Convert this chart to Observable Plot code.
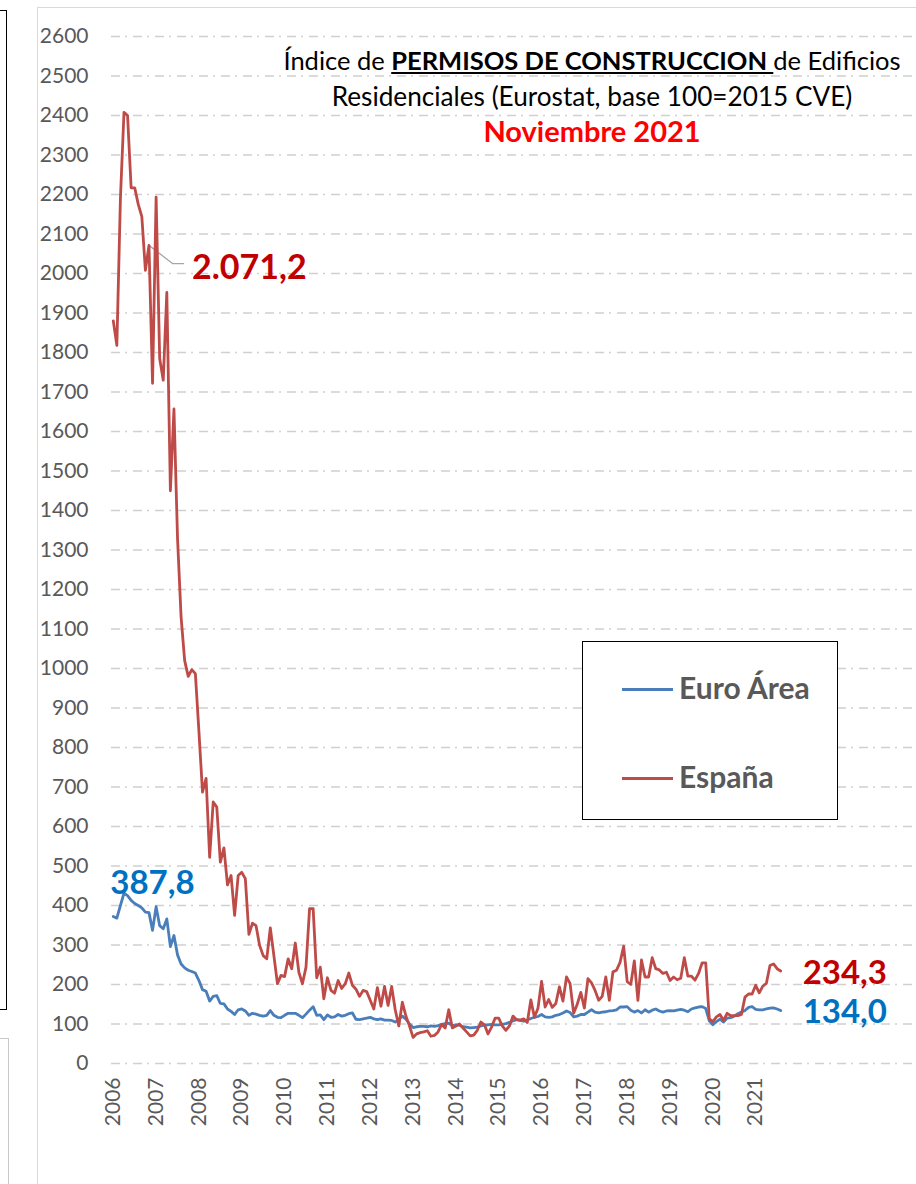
<!DOCTYPE html>
<html><head><meta charset="utf-8">
<script src="https://cdn.jsdelivr.net/npm/d3@7"></script>
<script src="https://cdn.jsdelivr.net/npm/@observablehq/plot@0.6"></script>
<style>
html,body{margin:0;padding:0;background:#fff;}
body{width:916px;height:1184px;overflow:hidden;position:relative;font-family:Lato,"Noto Sans",sans-serif;}
#chart{position:absolute;left:0;top:0;}
.deco{position:absolute;box-sizing:border-box;}
.t{position:absolute;white-space:nowrap;transform:translateX(-50%);line-height:30px;height:30px;}
#legend{position:absolute;left:582px;top:641px;width:256px;height:179px;box-sizing:border-box;border:1.5px solid #000;background:#fff;}
.lg{position:absolute;left:39px;height:30px;line-height:30px;font-weight:700;font-size:30px;color:#595959;white-space:nowrap;}
.lg span.sw{display:inline-block;width:51px;height:2.6px;vertical-align:middle;margin-right:6px;position:relative;top:-2px;}
</style></head>
<body>
<div class="deco" style="left:-10px;top:10px;width:17px;height:1000px;border:1.5px solid #000;"></div>
<div class="deco" style="left:-10px;top:1038px;width:19px;height:300px;border:1.5px solid #c8c8c8;"></div>
<div class="deco" style="left:37px;top:7px;width:1000px;height:1300px;border-left:1.5px solid #d9d9d9;border-top:1.5px solid #d9d9d9;"></div>
<div id="chart"></div>
<div class="t" id="t1" style="left:592px;top:45px;font-size:25.5px;color:#000;">Índice de <b><u>PERMISOS DE CONSTRUCCION </u></b>de Edificios</div>
<div class="t" id="t2" style="left:592px;top:81px;font-size:26.2px;color:#000;">Residenciales (Eurostat, base 100=2015 CVE)</div>
<div class="t" id="t3" style="left:592px;top:116px;font-size:29px;color:#FF0000;font-weight:700;">Noviembre 2021</div>
<div id="legend"></div>
<script>
// ---- data ----
const startYear = 2006;              // first month: January 2006
const yearTicks = d3.range(2006, 2022);
const yTicks = d3.range(0, 2601, 100);
const seriesNames = ["Euro Área", "España"];
const seriesColors = ["#4A7EBB", "#BE4B48"];

const euroArea = [
  372, 368, 400, 431, 425, 413, 405, 400, 394, 383, 382, 337,
  397, 349, 341, 366, 296, 324, 275, 252, 242, 236, 233, 229,
  210, 187, 183, 158, 170, 172, 152, 151, 138, 132, 124, 136,
  138, 133, 122, 127, 125, 122, 120, 122, 134, 122, 117, 116,
  122, 127, 127, 127, 122, 116, 125, 135, 144, 122, 123, 111,
  123, 117, 118, 124, 120, 122, 126, 128, 112, 111, 113, 115,
  117, 113, 111, 113, 110, 110, 109, 105, 112, 120, 112, 100,
  91, 93, 94, 94, 93, 95, 94, 96, 99, 101, 102, 96,
  98, 97, 93, 92, 90, 91, 92, 95, 97, 98, 99, 98,
  98, 99, 101, 104, 108, 111, 109, 107, 110, 114, 117, 119,
  124, 118, 117, 118, 122, 124, 128, 133, 129, 118, 120, 124,
  124, 130, 136, 130, 128, 130, 131, 133, 134, 136, 143, 143,
  144, 135, 130, 134, 128, 136, 130, 135, 138, 133, 130, 133,
  134, 133, 135, 137, 135, 131, 138, 141, 143, 144, 139, 108,
  98, 106, 112, 105, 115, 116, 120, 126, 130, 134, 142, 144,
  137, 136, 136, 138, 140, 141, 138, 134.0
];
const espana = [
  1880, 1818, 2190, 2408, 2400, 2217, 2217, 2175, 2144, 2008, 2071.2, 1722,
  2193, 1785, 1730, 1952, 1450, 1657, 1330, 1130, 1020, 980, 997, 987,
  840, 687, 722, 522, 662, 649, 510, 546, 452, 476, 375, 476,
  484, 468, 327, 355, 349, 299, 273, 265, 343, 273, 202, 223,
  220, 265, 240, 305, 231, 202, 244, 392, 392, 217, 244, 164,
  217, 185, 178, 210, 190, 202, 229, 198, 188, 170, 185, 182,
  160, 138, 192, 145, 195, 147, 195, 136, 95, 155, 120, 95,
  66, 75, 78, 80, 83, 69, 71, 80, 99, 90, 136, 90,
  95, 100, 90, 80, 70, 72, 84, 105, 98, 75, 92, 115,
  115, 95, 84, 95, 120, 111, 110, 113, 104, 161, 117, 140,
  208, 143, 162, 142, 152, 194, 158, 219, 202, 127, 150, 180,
  140, 215, 204, 185, 160, 170, 219, 160, 232, 236, 256, 297,
  207, 200, 260, 160, 262, 219, 219, 268, 240, 237, 228, 231,
  210, 219, 212, 216, 268, 221, 221, 211, 228, 255, 255, 113,
  106, 118, 124, 109, 127, 121, 121, 121, 124, 168, 176, 176,
  198, 179, 196, 203, 248, 252, 240, 234.3
];
// value labels: series, month index, text
const labelSeries = ["España", "Euro Área", "España", "Euro Área"];
const labelIndex = [10, 0, espana.length - 1, euroArea.length - 1];
const labelTexts = ["2.071,2", "387,8", "234,3", "134,0"];
const labelColors = ["#C00000", "#0070C0", "#C00000", "#0070C0"];

// ---- build ----
const toT = i => startYear + i / 12;
const rows = [];
euroArea.forEach((v, i) => rows.push({t: toT(i), v, s: "Euro Área"}));
espana.forEach((v, i) => rows.push({t: toT(i), v, s: "España"}));
const seriesVals = {"Euro Área": euroArea, "España": espana};
const labels = labelTexts.map((text, k) => ({
  text, color: labelColors[k],
  t: toT(labelIndex[k]), v: seriesVals[labelSeries[k]][labelIndex[k]]
}));
// leader for the España peak label (elbow relative to labelled point)
const a = labels[0];
const leader = [
  {t: a.t, v: a.v},
  {t: a.t + 6.6 / 12, v: a.v - 46},
  {t: a.t + 9.7 / 12, v: a.v - 46}
];

const chart = Plot.plot({
  width: 916, height: 1184,
  marginLeft: 111, marginRight: 2, marginTop: 36, marginBottom: 121,
  x: {type: "linear", domain: [toT(-0.5), toT(224.5)]},
  y: {domain: [0, 2600]},
  color: {domain: seriesNames, range: seriesColors},
  style: {fontFamily: "Lato, 'Noto Sans', sans-serif", background: "transparent", overflow: "visible"},
  marks: [
    Plot.ruleY(yTicks, {stroke: "#d0d0d0", strokeWidth: 1.4, strokeDasharray: "9,5,2,6"}),
    Plot.axisY({ticks: yTicks, tickSize: 0, tickPadding: 23, fontSize: 21, color: "#595959", tickFormat: d => String(d), label: null}),
    Plot.axisX({ticks: yearTicks, tickSize: 0, tickRotate: -90, tickPadding: 14, fontSize: 21, color: "#595959", tickFormat: d => String(d), label: null}),
    Plot.line(leader, {x: "t", y: "v", stroke: "#A6A6A6", strokeWidth: 1.3}),
    Plot.line(rows, {x: "t", y: "v", z: "s", stroke: d => d.s, strokeWidth: 2.8}),
    Plot.text([labels[0]], {x: "t", y: "v", text: "text", fill: "color", fontSize: 34, fontWeight: 700, textAnchor: "start", lineAnchor: "middle", dx: 43, dy: 23}),
    Plot.text([labels[1]], {x: "t", y: "v", text: "text", fill: "color", fontSize: 33, fontWeight: 700, textAnchor: "start", lineAnchor: "middle", dx: -3, dy: -33}),
    Plot.text(labels.slice(2), {x: "t", y: "v", text: "text", fill: "color", fontSize: 33, fontWeight: 700, textAnchor: "start", lineAnchor: "middle", dx: 22, dy: 2})
  ]
});
document.getElementById("chart").appendChild(chart);

// legend
const lg = document.getElementById("legend");
const legendTops = [30, 119];
seriesNames.forEach((name, k) => {
  const row = document.createElement("div");
  row.className = "lg";
  row.style.top = legendTops[k] + "px";
  row.innerHTML = `<span class="sw" style="background:${seriesColors[k]}"></span>${name}`;
  lg.appendChild(row);
});
</script>
</body></html>
